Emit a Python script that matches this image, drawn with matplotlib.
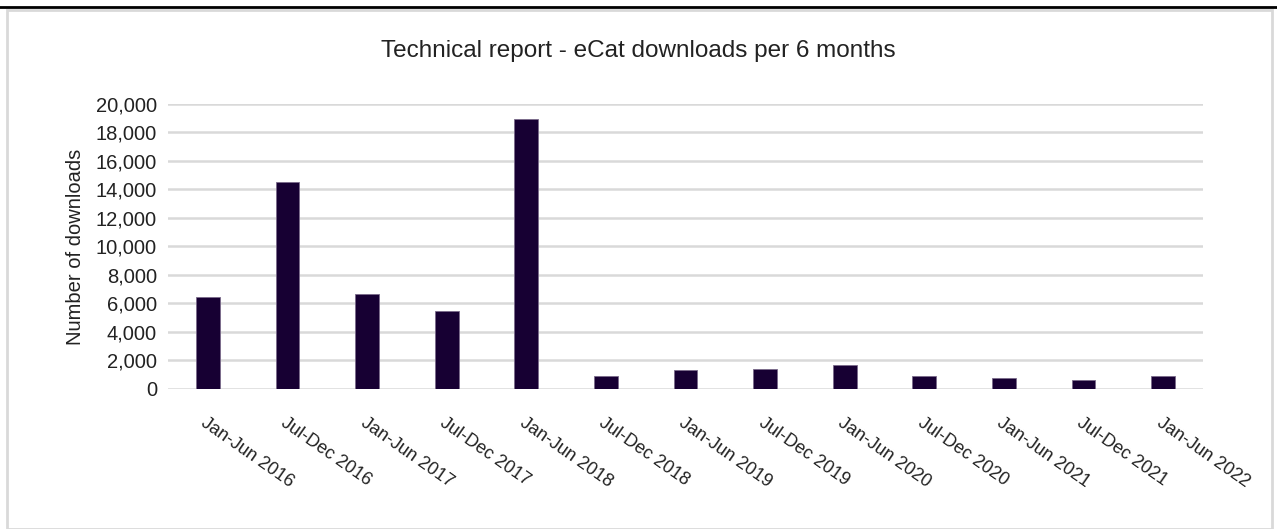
import matplotlib.pyplot as plt
from matplotlib.ticker import FuncFormatter
from matplotlib.patches import Rectangle
from matplotlib.lines import Line2D

periods = ["Jan-Jun 2016", "Jul-Dec 2016", "Jan-Jun 2017", "Jul-Dec 2017",
           "Jan-Jun 2018", "Jul-Dec 2018", "Jan-Jun 2019", "Jul-Dec 2019",
           "Jan-Jun 2020", "Jul-Dec 2020", "Jan-Jun 2021", "Jul-Dec 2021",
           "Jan-Jun 2022"]
downloads = [6450, 14500, 6700, 5500, 18950, 900, 1300, 1400, 1700, 900, 750, 650, 900]

plt.rcParams['font.family'] = ['Liberation Sans', 'DejaVu Sans']

fig = plt.figure(figsize=(12.77, 5.29), dpi=100)
ax = fig.add_axes([0.1316, 0.2647, 0.8104, 0.5387])

x = range(len(periods))
ax.bar(x, downloads, width=0.3, color="#170033", edgecolor="#7a6a8a", linewidth=0.6, zorder=3)

ax.set_xlim(-0.5, len(periods) - 0.5)
ax.set_ylim(0, 20000)
ax.set_yticks(range(0, 20001, 2000))
ax.yaxis.set_major_formatter(FuncFormatter(lambda v, p: f"{int(v):,}"))
ax.grid(axis="y", color="#d9d9d9", linewidth=1.8, zorder=0)
for s in ax.spines.values():
    s.set_visible(False)
ax.tick_params(axis="both", length=0, labelsize=14.5, colors="#222222", pad=8)

# rotated period labels hanging below each bar
ax.set_xticks(list(x))
ax.set_xticklabels(periods, rotation=-35, ha="left", va="top", rotation_mode="anchor", fontsize=13)
ax.tick_params(axis="x", pad=18)

ax.set_ylabel("Number of downloads", fontsize=14.5, color="#222222", labelpad=8)
fig.text(0.5, 0.903, "Technical report - eCat downloads per 6 months",
         ha="center", va="center", fontsize=17.5, color="#222222")

# outer frame like the screenshot
fig.patches.append(Rectangle((7 / 1277, 0), 1265 / 1277, 1 - 10 / 529, transform=fig.transFigure,
                             fill=False, edgecolor="#d9d9d9", linewidth=2))
fig.lines.append(Line2D([0, 1], [1 - 7 / 529, 1 - 7 / 529], transform=fig.transFigure,
                        color="black", linewidth=2))

fig.savefig("out.png", dpi=100)
